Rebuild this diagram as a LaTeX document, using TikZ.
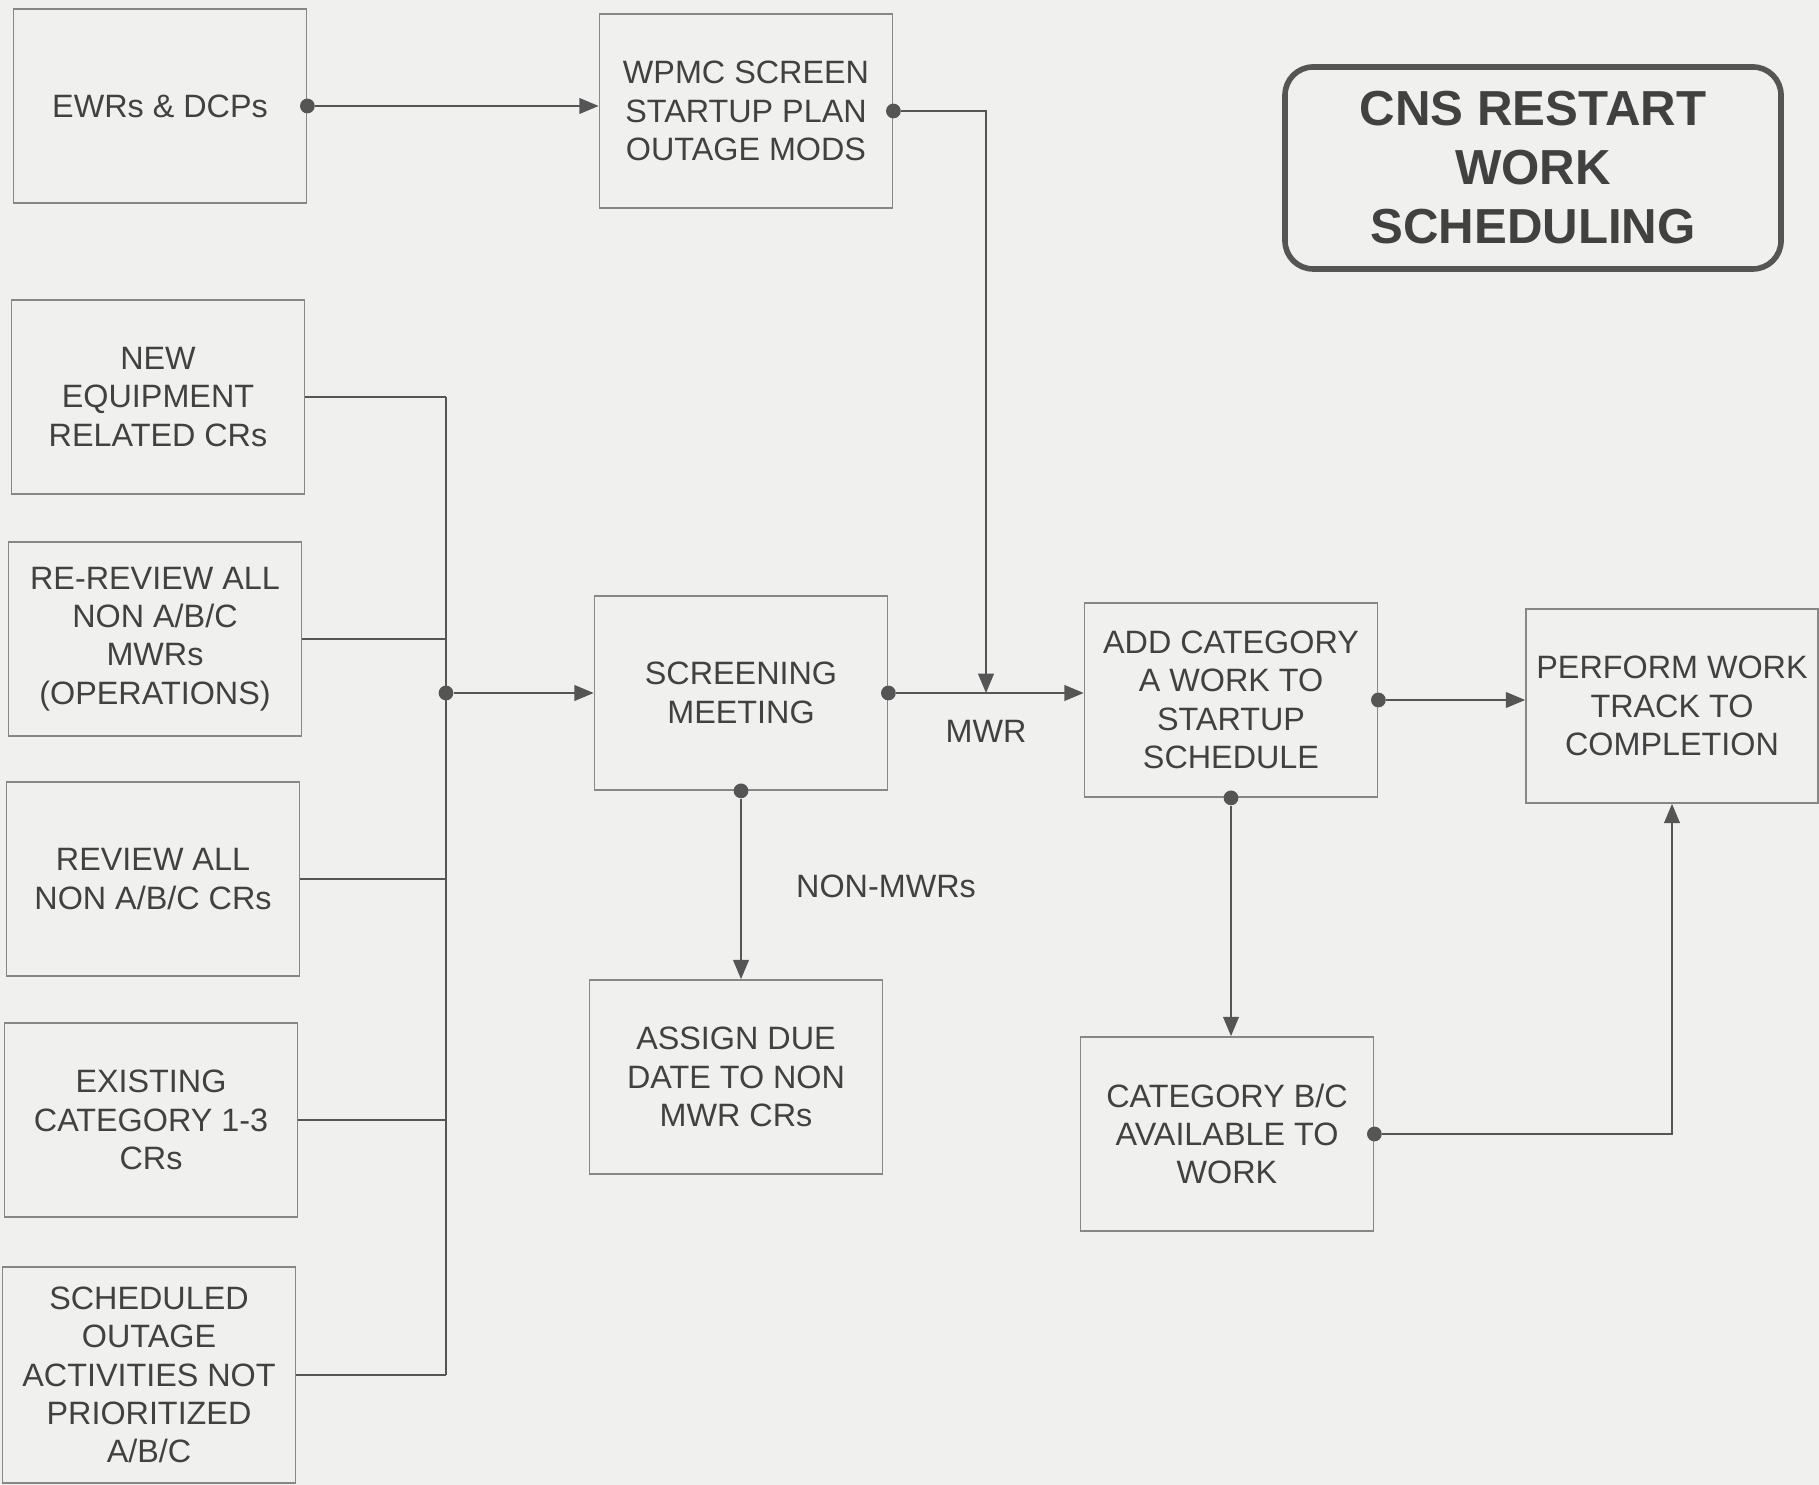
\documentclass[tikz,border=0pt]{standalone}
\usepackage{fontspec}
\setmainfont{Liberation Sans}
\usetikzlibrary{arrows.meta,calc}
\definecolor{PageBg} {RGB}{240,240,238}
\definecolor{BoxLine}{RGB}{135,135,135}
\definecolor{InkText}{RGB}{65,65,65}
\definecolor{InkLine}{RGB}{85,85,85}
\tikzset{
  nd_box/.style={
    rectangle, draw=BoxLine, line width=0.5pt,
    minimum width=2.93cm, minimum height=1.94cm, inner sep=1pt,
    align=center, text=InkText, font=\fontsize{9.2}{10.9}\selectfont},
  nd_title/.style={
    rectangle, rounded corners=8pt, draw=InkLine, line width=1.6pt,
    minimum width=4.96cm, minimum height=2.02cm,
    align=center, text=InkText, font=\fontsize{14}{16.8}\selectfont\bfseries},
  nd_dot/.style={
    circle, fill=InkLine, minimum size=4.2pt, inner sep=0pt},
  arr/.style={-{Triangle[length=5.5pt,width=4.5pt]},draw=InkLine,line width=0.45pt},
  lnk/.style={draw=InkLine,line width=0.45pt},
  lbl/.style={text=InkText,font=\fontsize{9.2}{10.9}\selectfont},
}

\begin{document}
\begin{tikzpicture}[x=1cm,y=1cm]

\useasboundingbox (0,0) rectangle (18.19,-14.85);
\fill[PageBg] (0,0) rectangle (18.19,-14.85);

\def\bx{4.46}

%% Top row
\node[nd_box]  at (1.60,-1.06)  (EW){EWRs \& DCPs};
\node[nd_box]  at (7.46,-1.11)  (WP){WPMC SCREEN\\STARTUP PLAN\\OUTAGE MODS};
\node[nd_title] at (15.33,-1.68) (TT){CNS RESTART\\WORK\\SCHEDULING};

%% Left column
\node[nd_box] at (1.58,-3.97)  (L1){NEW\\EQUIPMENT\\RELATED CRs};
\node[nd_box] at (1.55,-6.39)  (L2){RE-REVIEW ALL\\NON A/B/C\\MWRs\\(OPERATIONS)};
\node[nd_box] at (1.53,-8.79)  (L3){REVIEW ALL\\NON A/B/C CRs};
\node[nd_box] at (1.51,-11.20) (L4){EXISTING\\CATEGORY 1-3\\CRs};
\node[nd_box,minimum height=2.16cm] at (1.49,-13.75) (L5){SCHEDULED\\OUTAGE\\ACTIVITIES NOT\\PRIORITIZED\\A/B/C};

%% Middle and right
\node[nd_box] at (7.41,-6.93)  (SC){SCREENING\\MEETING};
\node[nd_box] at (7.36,-10.77) (AS){ASSIGN DUE\\DATE TO NON\\MWR CRs};
\node[nd_box] at (12.31,-7.00) (AC){ADD CATEGORY\\A WORK TO\\STARTUP\\SCHEDULE};
\node[nd_box] at (12.27,-11.34) (CB){CATEGORY B/C\\AVAILABLE TO\\WORK};
\node[nd_box,minimum width=2.92cm] at (16.72,-7.06) (PW){PERFORM WORK\\TRACK TO\\COMPLETION};

%% Dots
\node[nd_dot] at (EW.east)  (EWd){};
\node[nd_dot] at (WP.east)  (WPd){};
\node[nd_dot] at (SC.east)  (SCe){};
\node[nd_dot] at (SC.south) (SCs){};
\node[nd_dot] at (AC.east)  (ACe){};
\node[nd_dot] at (AC.south) (ACs){};
\node[nd_dot] at (CB.east)  (CBe){};
\node[nd_dot] at (SC.west -| \bx,0) (BJ){};
\coordinate (MJ) at ($(SCe)!0.5!(SCe -| AC.west)$);

%% Labels
\node[lbl] at ($(MJ)+(0,-0.38)$)   (MW){MWR};
\node[lbl] at ($(SCs)+(1.45,-0.95)$) (NM){NON-MWRs};

%% Connectors
\draw[arr] (EWd)--(EWd -| WP.west);
\draw[arr] (WPd)-|(MJ);
\draw[arr] (SCe)--(SCe -| AC.west);
\draw[arr] (SCs)--(SCs |- AS.north);
\draw[arr] (ACe)--(ACe -| PW.west);
\draw[arr] (ACs)--(ACs |- CB.north);
\draw[arr] (CBe)-|(PW.south);

\foreach \n in {L1,L2,L3,L4,L5}
  {\draw[lnk] (\n.east)--(\n.east -| \bx,0);}
\draw[lnk] (L1.east -| \bx,0)--(L5.east -| \bx,0);
\draw[arr] (BJ)--(SC.west);

\end{tikzpicture}
\end{document}
